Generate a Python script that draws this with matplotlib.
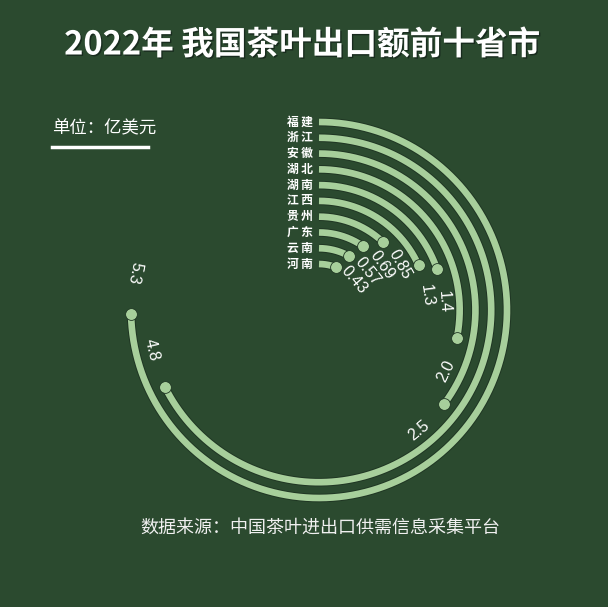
import numpy as np
import matplotlib
matplotlib.use("Agg")
import matplotlib.pyplot as plt
import matplotlib.patheffects as pe

plt.rcParams['font.family'] = ['Noto Sans CJK SC', 'DejaVu Sans']

# data (export value, 100 million USD)
provinces = ['福建', '浙江', '安徽', '湖北', '湖南', '江西', '贵州', '广东', '云南', '河南']
values = [5.3, 4.8, 2.5, 2.0, 1.4, 1.3, 0.85, 0.69, 0.57, 0.43]
value_labels = ['5.3', '4.8', '2.5', '2.0', '1.4', '1.3', '0.85', '0.69', '0.57', '0.43']
full_circle = 7.1  # value that would close the ring

bg = '#2b4a2f'
arc_color = '#a7cf9b'
edge_color = '#1f3623'

W, H = 608, 607
fig = plt.figure(figsize=(W / 100, H / 100), dpi=100, facecolor=bg)

# polar axes placed so the ring centre sits where it does in the original
cx, cy = 319, 310
step = 15.78
r_origin = -1.914
r_max = 11
rad_px = (r_max - r_origin) * step
ax = fig.add_axes([(cx - rad_px) / W, (H - cy - rad_px) / H, 2 * rad_px / W, 2 * rad_px / H],
                  projection='polar')
ax.set_theta_zero_location('N')
ax.set_theta_direction(-1)
ax.set_rorigin(r_origin)
ax.set_ylim(0, r_max)
ax.axis('off')
ax.patch.set_alpha(0)

n = len(provinces)
for i, (name, v, lab) in enumerate(zip(provinces, values, value_labels)):
    r = n - i
    end = v / full_circle * 2 * np.pi
    th = np.linspace(0, end, 400)
    rr = np.full_like(th, r)
    ax.plot(th, rr, color=edge_color, lw=6.2, solid_capstyle='butt', clip_on=False)
    ax.plot(th, rr, color=arc_color, lw=4.8, solid_capstyle='butt', clip_on=False)
    ax.plot([end], [r], 'o', color=arc_color, ms=8.5, mec=edge_color, mew=0.6, clip_on=False)

    # value label, a little past the end of the arc, along the ring
    r_px = (r - r_origin) * step
    th_lab = end + np.radians(8 + 900 / r_px)
    deg = np.degrees(th_lab)
    rot = -deg if deg < 100 else 180 - deg
    ax.text(th_lab, r, lab, rotation=rot, rotation_mode='anchor', ha='center', va='center',
            color='white', fontsize=11.5, family=['Liberation Sans'], clip_on=False)

    # province name at the start of each arc
    ax.annotate(name[0] + '\u2009' + name[1], xy=(0, r), xytext=(-4.5, 0), textcoords='offset points',
                ha='right', va='center', color='white', fontsize=8.5, fontweight='bold')

title = fig.text(302 / W, 1 - 45 / H, '2022年 我国茶叶出口额前十省市', ha='center', va='center',
                 color='white', fontsize=23.5, fontweight='black')
title.set_path_effects([pe.withSimplePatchShadow(offset=(1, -1), shadow_rgbFace='#14241a', alpha=0.8)])

fig.text(52 / W, 1 - 128 / H, '单位：亿美元', ha='left', va='center', color='white', fontsize=12.5)
fig.add_artist(plt.Line2D([52 / W, 148 / W], [1 - 147 / H, 1 - 147 / H], color='white', lw=2.5,
                          transform=fig.transFigure))

fig.text(320 / W, 1 - 528 / H, '数据来源：中国茶叶进出口供需信息采集平台', ha='center', va='center',
         color='#f0f0f0', fontsize=13)

fig.savefig('out.png', dpi=100, facecolor=bg)
